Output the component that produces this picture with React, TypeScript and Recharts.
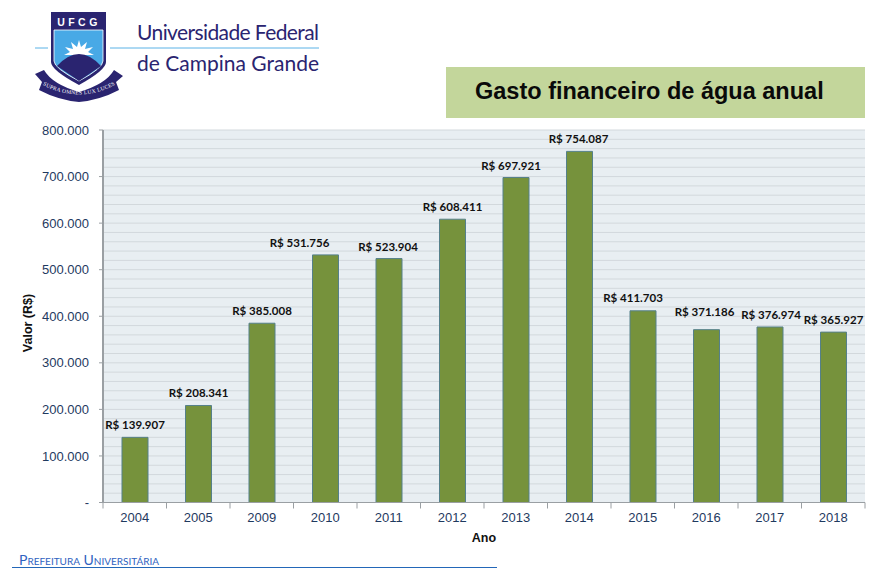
import React from 'react';
import { BarChart, Bar, XAxis, YAxis, CartesianGrid, LabelList, Label } from 'recharts';

const years = ['2004', '2005', '2009', '2010', '2011', '2012', '2013', '2014', '2015', '2016', '2017', '2018'];
const spending = [139907, 208341, 385008, 531756, 523904, 608411, 697921, 754087, 411703, 371186, 376974, 365927];
const yTicks = [0, 100000, 200000, 300000, 400000, 500000, 600000, 700000, 800000];
const gridValues = [20000, 40000, 60000, 80000, 100000, 120000, 140000, 160000, 180000, 200000, 220000, 240000, 260000, 280000, 300000, 320000, 340000, 360000, 380000, 400000, 420000, 440000, 460000, 480000, 500000, 520000, 540000, 560000, 580000, 600000, 620000, 640000, 660000, 680000, 700000, 720000, 740000, 760000, 780000, 800000];
// hand-placed label nudges seen in the reference (label collisions were moved by its author)
const labelNudgeX = [0, 0, 0, -26, -1, 0, -5, -1, -10, -2, 1, 0];
const labelNudgeY = [0, 0, 0, 0, 0, 0, 0, 0, -1, -6, 0, 0];

const rows = years.map((year, i) => ({ year, value: spending[i], i }));
const fmt = (v: number) => String(v).replace(/\B(?=(\d{3})+(?!\d))/g, '.');
const ARIAL = '"Liberation Sans", Arial, sans-serif';
const NAVY = '#1F3A5F';
const AXIS = '#9A9FA3';

const XTick = (props: any) => {
  const { x, y, payload, index } = props;
  const half = 31.75;
  return (
    <g>
      <line x1={x - half} x2={x - half} y1={y - 8} y2={y - 2} stroke={AXIS} strokeWidth={1} />
      {index === years.length - 1 && <line x1={x + half} x2={x + half} y1={y - 8} y2={y - 2} stroke={AXIS} strokeWidth={1} />}
      <text x={x} y={y + 11} textAnchor="middle" fontFamily={ARIAL} fontSize={13} fill={NAVY}>{payload.value}</text>
    </g>
  );
};

const ValueLabel = (props: any) => {
  const { x, y, width, value, index } = props;
  return (
    <text x={x + width / 2 + labelNudgeX[index]} y={y - 8 + labelNudgeY[index]} textAnchor="middle"
      fontFamily="Lato, sans-serif" fontWeight={700} fontSize={11.5} fill="#111">
      {'R$ ' + fmt(value)}
    </text>
  );
};

const Logo = () => (
  <svg width={340} height={110} style={{ position: 'absolute', left: 0, top: 0 }}>
    <line x1={35} x2={48} y1={48} y2={48} stroke="#5BB2E6" strokeWidth={1} />
    <line x1={110} x2={319} y1={48} y2={48} stroke="#5BB2E6" strokeWidth={1} />
    <path d="M51 12 H106 V62 Q106 70 79 85 Q51 70 51 62 Z" fill="#2A2470" />
    <path d="M54 30 H103 V61 Q103 68 79 81 Q54 68 54 61 Z" fill="#48A9E6" stroke="#fff" strokeWidth={0.8} />
    <path d="M79 40 L81 47 L87 42 L85 49 L93 47 L88 52 L94 55 L64 55 L70 52 L65 47 L73 49 L71 42 L77 47 Z" fill="#fff" />
    <path d="M57 66 Q68 54 79 54 Q90 54 101 66 L79 81 Z" fill="#2A2470" />
    <text x={79} y={26} textAnchor="middle" fontFamily={ARIAL} fontWeight={700} fontSize={10.5} letterSpacing={3.5} fill="#fff">UFCG</text>
    <path d="M35 74 L44 70 Q52 84 79 92 Q106 84 114 70 L123 76 L116 82 L119 90 Q100 100 79 102 Q58 100 39 90 L42 82 Z" fill="#2A2470" />
    <path id="ribbon" d="M43 85 Q78 104 115 85" fill="none" />
    <text fontFamily='"Liberation Serif", serif' fontSize={5.5} fill="#fff" letterSpacing={0.3}>
      <textPath href="#ribbon" startOffset="50%" textAnchor="middle">SUPRA OMNES LUX LUCES</textPath>
    </text>
    <text x={137} y={40} fontFamily="Lato, sans-serif" fontSize={21} fill="#2A2470" textLength={182}>Universidade Federal</text>
    <text x={137} y={71} fontFamily="Lato, sans-serif" fontSize={21} fill="#2A2470" textLength={182}>de Campina Grande</text>
  </svg>
);

export default function App() {
  return (
    <div style={{ position: 'absolute', left: 0, top: 0, width: 887, height: 577, background: '#fff', overflow: 'hidden' }}>
      <Logo />
      <div style={{ position: 'absolute', left: 446, top: 67, width: 419, height: 51, background: '#C3D69B' }}>
        <div style={{ position: 'absolute', left: 29, top: 11, fontFamily: ARIAL, fontWeight: 700, fontSize: 23.5, color: '#0A0A0A', whiteSpace: 'nowrap' }}>
          Gasto financeiro de água anual
        </div>
      </div>
      <BarChart width={887} height={577} data={rows} margin={{ top: 130, right: 22, bottom: 0, left: 0 }}
        barCategoryGap={0} style={{ position: 'absolute', left: 0, top: 0 }}>
        <CartesianGrid vertical={false} fill="#E8EEF2" stroke="#D2D8DC" strokeWidth={1} horizontalValues={gridValues} />
        <XAxis dataKey="year" height={74.5} axisLine={{ stroke: AXIS, strokeWidth: 1 }} tickLine={false} tick={<XTick />} interval={0}>
          <Label value="Ano" position="insideBottom" offset={35} fontFamily={ARIAL} fontWeight={700} fontSize={12.5} fill="#111" />
        </XAxis>
        <YAxis width={103} domain={[0, 800000]} ticks={yTicks} interval={0} tickFormatter={(v: number) => (v === 0 ? '-' : fmt(v))}
          axisLine={{ stroke: AXIS, strokeWidth: 2 }} tickLine={{ stroke: AXIS }} tickSize={4} tickMargin={10}
          tick={{ fontFamily: ARIAL, fontSize: 13, fill: NAVY }}>
          <Label content={() => (
            <text transform="translate(32,323) rotate(-90)" textAnchor="middle" fontFamily={ARIAL} fontWeight={700} fontSize={12.5} fill="#111">Valor (R$)</text>
          )} />
        </YAxis>
        <Bar dataKey="value" barSize={26} fill="#76923C" stroke="#55808A" strokeWidth={1} isAnimationActive={false}>
          <LabelList dataKey="value" content={<ValueLabel />} />
        </Bar>
      </BarChart>
      <div style={{ position: 'absolute', left: 19, top: 551, fontFamily: 'Lato, sans-serif', fontVariant: 'small-caps', fontSize: 14, color: '#2F62C0', whiteSpace: 'nowrap' }}>
        Prefeitura Universitária
      </div>
      <div style={{ position: 'absolute', left: 12, top: 567, width: 485, height: 1, background: '#2367B8' }} />
    </div>
  );
}
